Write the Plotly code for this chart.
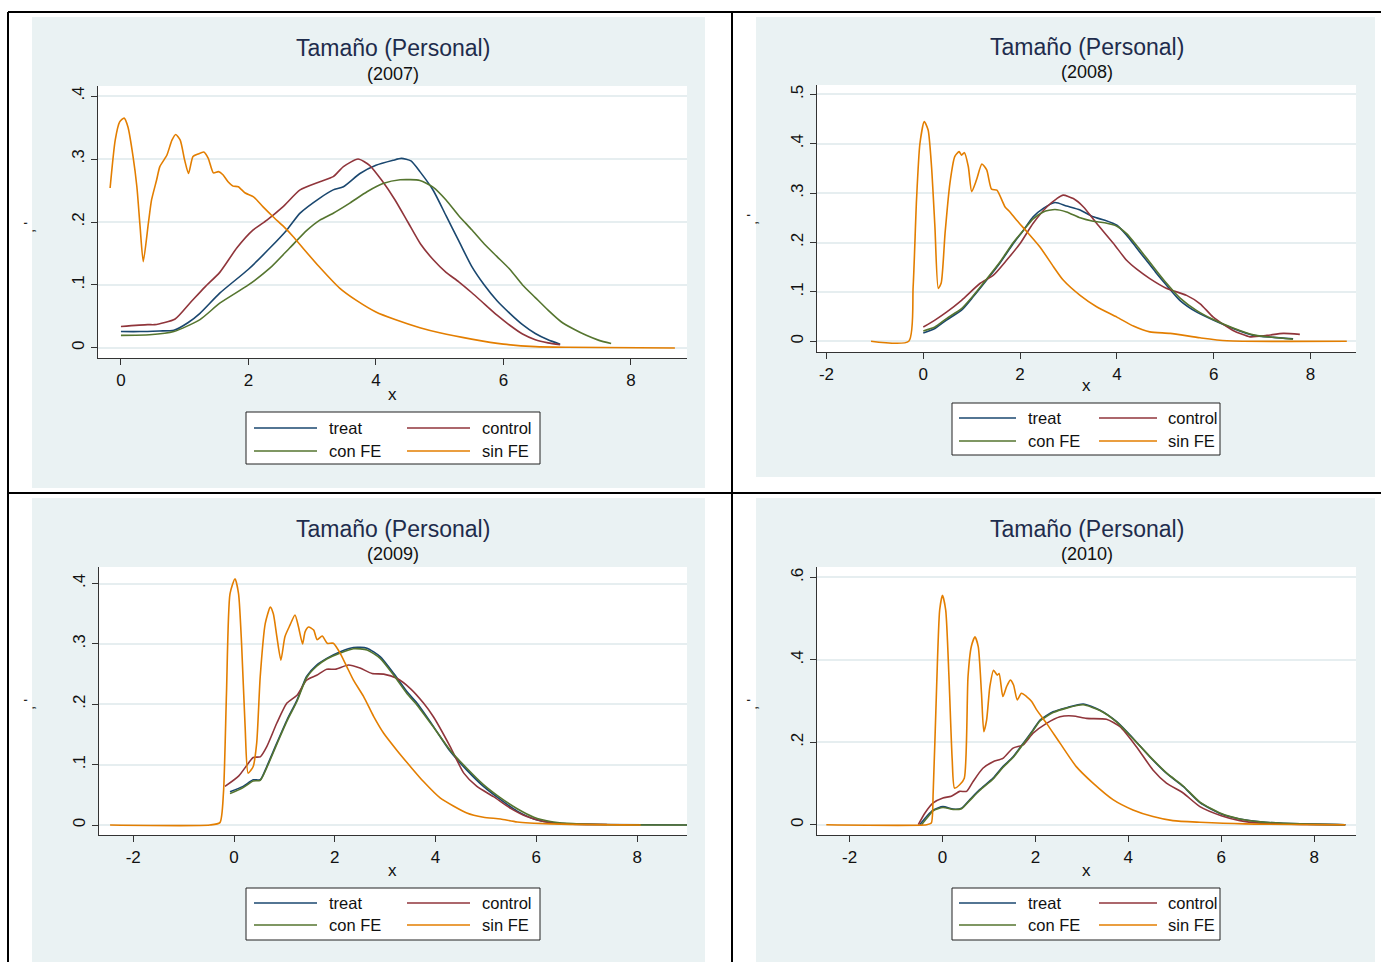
import plotly.graph_objects as go

W, H = 1381, 962
FONT = "Liberation Sans, Arial, Helvetica, sans-serif"

SERIES = ["treat", "control", "con FE", "sin FE"]
COLORS = ["#1A476F", "#90353B", "#55752F", "#E37E00"]
TITLE = "Tamaño (Personal)"
YEARS = ["(2007)", "(2008)", "(2009)", "(2010)"]

# ---------------- 2007 ----------------
X07_TREAT = [0, 0.3, 0.6, 0.83, 1.05, 1.24, 1.55, 2.0, 2.34, 2.6, 2.81, 3.12, 3.33, 3.49, 3.75, 4.0, 4.27, 4.4, 4.55, 4.69, 4.9, 5.1, 5.3, 5.5, 5.7, 5.9, 6.1, 6.3, 6.5, 6.7, 6.89]
Y07_TREAT = [0.026, 0.026, 0.027, 0.028, 0.04, 0.055, 0.087, 0.125, 0.159, 0.187, 0.214, 0.238, 0.251, 0.256, 0.277, 0.29, 0.298, 0.301, 0.297, 0.28, 0.25, 0.21, 0.17, 0.13, 0.1, 0.075, 0.055, 0.037, 0.023, 0.013, 0.006]
X07_CONTROL = [0, 0.42, 0.53, 0.85, 1.08, 1.32, 1.55, 1.82, 2.07, 2.29, 2.54, 2.81, 3.12, 3.33, 3.49, 3.72, 3.9, 4.1, 4.3, 4.5, 4.7, 4.9, 5.1, 5.3, 5.5, 5.7, 5.9, 6.1, 6.3, 6.5, 6.7, 6.89]
Y07_CONTROL = [0.034, 0.037, 0.037, 0.046, 0.071, 0.097, 0.12, 0.159, 0.187, 0.203, 0.224, 0.251, 0.264, 0.272, 0.288, 0.3, 0.29, 0.265, 0.235, 0.2, 0.165, 0.14, 0.12, 0.105, 0.088, 0.07, 0.052, 0.036, 0.022, 0.013, 0.008, 0.005]
X07_CONFE = [0, 0.45, 0.83, 1.24, 1.55, 2.0, 2.34, 2.65, 2.92, 3.12, 3.33, 3.59, 3.86, 4.11, 4.38, 4.69, 4.9, 5.1, 5.3, 5.5, 5.7, 5.9, 6.1, 6.3, 6.5, 6.7, 6.9, 7.1, 7.3, 7.5, 7.69]
Y07_CONFE = [0.02, 0.021, 0.026, 0.045, 0.071, 0.1, 0.127, 0.159, 0.187, 0.203, 0.214, 0.23, 0.248, 0.261, 0.267, 0.266, 0.255, 0.235, 0.21, 0.188, 0.165, 0.145, 0.125, 0.1, 0.08, 0.06, 0.042, 0.03, 0.02, 0.012, 0.007]
X07_SINFE = [-0.17, -0.09, -0.02, 0.05, 0.11, 0.19, 0.25, 0.3, 0.35, 0.43, 0.48, 0.56, 0.61, 0.72, 0.8, 0.86, 0.93, 1.0, 1.06, 1.13, 1.21, 1.3, 1.37, 1.45, 1.53, 1.6, 1.68, 1.76, 1.84, 1.95, 2.08, 2.23, 2.39, 2.55, 2.7, 2.86, 3.1, 3.43, 3.7, 4.0, 4.3, 4.69, 5.0, 5.5, 6.0, 6.5, 7.0, 8.69]
Y07_SINFE = [0.254, 0.33, 0.359, 0.365, 0.351, 0.304, 0.256, 0.193, 0.137, 0.198, 0.235, 0.267, 0.288, 0.306, 0.33, 0.339, 0.33, 0.298, 0.277, 0.304, 0.308, 0.311, 0.301, 0.278, 0.28, 0.275, 0.264, 0.257, 0.256, 0.246, 0.24, 0.224, 0.208, 0.193, 0.177, 0.158, 0.13, 0.095, 0.075, 0.057, 0.045, 0.032, 0.024, 0.014, 0.006, 0.002, 0.001, 0.0]

# ---------------- 2008 ----------------
X08_TREAT = [0, 0.24, 0.48, 0.79, 1.03, 1.31, 1.58, 1.86, 2.07, 2.27, 2.48, 2.72, 2.96, 3.24, 3.51, 3.75, 4.0, 4.2, 4.4, 4.6, 4.8, 5.03, 5.3, 5.65, 5.99, 6.4, 6.82, 7.23, 7.64]
Y08_TREAT = [0.017, 0.026, 0.043, 0.063, 0.09, 0.124, 0.158, 0.198, 0.225, 0.252, 0.269, 0.281, 0.274, 0.266, 0.252, 0.245, 0.235, 0.215, 0.19, 0.165, 0.14, 0.113, 0.083, 0.059, 0.043, 0.026, 0.012, 0.008, 0.005]
X08_CONTROL = [0, 0.24, 0.48, 0.79, 1.17, 1.45, 1.72, 2.0, 2.27, 2.55, 2.76, 2.89, 3.1, 3.31, 3.58, 3.93, 4.2, 4.41, 4.68, 5.03, 5.44, 5.72, 5.99, 6.4, 6.75, 7.1, 7.44, 7.78]
Y08_CONTROL = [0.029, 0.043, 0.059, 0.083, 0.117, 0.134, 0.164, 0.198, 0.239, 0.272, 0.289, 0.296, 0.289, 0.272, 0.239, 0.198, 0.164, 0.146, 0.127, 0.107, 0.093, 0.076, 0.049, 0.022, 0.009, 0.012, 0.016, 0.014]
X08_CONFE = [0, 0.24, 0.48, 0.79, 1.03, 1.31, 1.58, 1.86, 2.07, 2.27, 2.48, 2.72, 2.96, 3.24, 3.51, 3.75, 4.0, 4.2, 4.4, 4.6, 4.8, 5.03, 5.3, 5.65, 5.99, 6.4, 6.82, 7.23, 7.64]
Y08_CONFE = [0.021, 0.029, 0.046, 0.066, 0.092, 0.126, 0.16, 0.2, 0.225, 0.248, 0.262, 0.267, 0.262, 0.25, 0.243, 0.24, 0.233, 0.218, 0.195, 0.17, 0.145, 0.117, 0.088, 0.062, 0.044, 0.027, 0.013, 0.008, 0.004]
X08_SINFE = [-1.08, -0.3, -0.21, -0.14, -0.07, 0.02, 0.1, 0.17, 0.24, 0.31, 0.37, 0.45, 0.55, 0.65, 0.74, 0.79, 0.85, 0.93, 1.0, 1.1, 1.21, 1.31, 1.41, 1.52, 1.69, 1.79, 1.93, 2.14, 2.41, 2.69, 2.89, 3.24, 3.58, 4.0, 4.34, 4.68, 5.1, 5.72, 6.27, 8.75]
Y08_SINFE = [0, 0, 0.11, 0.286, 0.40, 0.445, 0.428, 0.354, 0.232, 0.107, 0.118, 0.219, 0.32, 0.374, 0.384, 0.377, 0.382, 0.354, 0.303, 0.327, 0.359, 0.347, 0.308, 0.306, 0.272, 0.262, 0.245, 0.222, 0.191, 0.151, 0.124, 0.093, 0.07, 0.049, 0.031, 0.019, 0.016, 0.007, 0.001, 0]

# ---------------- 2009 ----------------
X09_TREAT = [-0.08, 0.18, 0.38, 0.52, 0.65, 0.85, 1.05, 1.25, 1.44, 1.64, 1.84, 2.11, 2.37, 2.64, 2.9, 3.17, 3.43, 3.63, 3.96, 4.29, 4.62, 4.95, 5.29, 5.62, 5.95, 6.28, 6.61, 7.27, 8.99]
Y09_TREAT = [0.055, 0.064, 0.075, 0.075, 0.097, 0.136, 0.174, 0.207, 0.246, 0.265, 0.276, 0.287, 0.294, 0.293, 0.279, 0.251, 0.221, 0.202, 0.163, 0.122, 0.091, 0.064, 0.042, 0.023, 0.01, 0.004, 0.002, 0.001, 0]
X09_CONTROL = [-0.18, 0.09, 0.28, 0.38, 0.52, 0.65, 0.85, 1.05, 1.25, 1.44, 1.64, 1.84, 2.01, 2.27, 2.5, 2.74, 2.97, 3.23, 3.5, 3.76, 3.96, 4.29, 4.56, 4.82, 5.15, 5.48, 5.81, 6.15, 6.61, 7.4]
Y09_CONTROL = [0.064, 0.081, 0.102, 0.112, 0.113, 0.13, 0.169, 0.202, 0.215, 0.24, 0.248, 0.258, 0.258, 0.265, 0.26, 0.251, 0.25, 0.243, 0.226, 0.202, 0.179, 0.13, 0.086, 0.064, 0.047, 0.028, 0.014, 0.006, 0.002, 0.001]
X09_CONFE = [-0.08, 0.18, 0.38, 0.52, 0.65, 0.85, 1.05, 1.25, 1.44, 1.64, 1.84, 2.11, 2.37, 2.64, 2.9, 3.17, 3.43, 3.63, 3.96, 4.29, 4.62, 4.95, 5.29, 5.62, 5.95, 6.28, 6.61, 7.27, 8.99]
Y09_CONFE = [0.052, 0.062, 0.073, 0.074, 0.095, 0.134, 0.172, 0.205, 0.244, 0.263, 0.275, 0.285, 0.292, 0.29, 0.276, 0.248, 0.218, 0.199, 0.162, 0.124, 0.094, 0.067, 0.045, 0.027, 0.013, 0.006, 0.003, 0.001, 0.0]
X09_SINFE = [-2.46, -0.48, -0.28, -0.21, -0.15, -0.08, 0.02, 0.09, 0.15, 0.22, 0.28, 0.38, 0.45, 0.52, 0.62, 0.72, 0.78, 0.85, 0.93, 1.01, 1.11, 1.21, 1.28, 1.36, 1.41, 1.48, 1.58, 1.65, 1.75, 1.85, 1.97, 2.11, 2.24, 2.37, 2.57, 2.77, 2.97, 3.23, 3.5, 3.76, 4.09, 4.62, 4.95, 5.29, 5.62, 6.28, 8.07]
Y09_SINFE = [0, 0, 0.004, 0.053, 0.218, 0.383, 0.408, 0.383, 0.3, 0.163, 0.086, 0.097, 0.136, 0.246, 0.334, 0.361, 0.35, 0.312, 0.273, 0.312, 0.331, 0.348, 0.328, 0.3, 0.32, 0.328, 0.323, 0.307, 0.313, 0.301, 0.301, 0.284, 0.262, 0.24, 0.213, 0.18, 0.152, 0.124, 0.097, 0.072, 0.045, 0.02, 0.013, 0.01, 0.005, 0.002, 0]

# ---------------- 2010 ----------------
X10_TREAT = [-0.49, -0.34, -0.2, 0.01, 0.23, 0.41, 0.59, 0.8, 1.09, 1.3, 1.52, 1.74, 1.95, 2.1, 2.38, 2.67, 3.03, 3.39, 3.75, 4.1, 4.46, 4.82, 5.18, 5.54, 6.0, 6.4, 6.84, 7.7, 8.67]
Y10_TREAT = [0, 0.02, 0.036, 0.044, 0.038, 0.04, 0.061, 0.085, 0.113, 0.141, 0.165, 0.198, 0.23, 0.254, 0.274, 0.284, 0.293, 0.278, 0.25, 0.21, 0.165, 0.125, 0.093, 0.054, 0.026, 0.014, 0.007, 0.002, 0]
X10_CONTROL = [-0.52, -0.38, -0.2, 0.01, 0.19, 0.37, 0.52, 0.66, 0.87, 1.09, 1.3, 1.52, 1.74, 1.95, 2.24, 2.53, 2.81, 3.1, 3.53, 3.82, 4.17, 4.53, 4.82, 5.18, 5.54, 6.0, 6.4, 6.84, 7.7, 8.67]
Y10_CONTROL = [0, 0.028, 0.053, 0.065, 0.069, 0.081, 0.081, 0.105, 0.137, 0.153, 0.161, 0.186, 0.194, 0.222, 0.246, 0.262, 0.264, 0.258, 0.256, 0.238, 0.19, 0.133, 0.101, 0.077, 0.044, 0.022, 0.01, 0.004, 0.001, 0]
X10_CONFE = [-0.45, -0.32, -0.2, 0.01, 0.23, 0.41, 0.59, 0.8, 1.09, 1.3, 1.52, 1.74, 1.95, 2.1, 2.38, 2.67, 3.03, 3.39, 3.75, 4.1, 4.46, 4.82, 5.18, 5.54, 6.0, 6.4, 6.84, 7.7, 8.67]
Y10_CONFE = [0, 0.018, 0.034, 0.042, 0.037, 0.039, 0.059, 0.083, 0.111, 0.139, 0.163, 0.196, 0.228, 0.252, 0.272, 0.283, 0.291, 0.277, 0.249, 0.209, 0.166, 0.126, 0.094, 0.055, 0.027, 0.014, 0.007, 0.002, 0]
X10_SINFE = [-2.5, -0.34, -0.24, -0.2, -0.13, -0.06, 0.0, 0.07, 0.14, 0.21, 0.26, 0.37, 0.47, 0.55, 0.62, 0.7, 0.77, 0.84, 0.89, 0.95, 1.02, 1.1, 1.18, 1.22, 1.3, 1.38, 1.46, 1.53, 1.61, 1.7, 1.81, 1.92, 2.02, 2.24, 2.53, 2.88, 3.24, 3.67, 4.1, 4.53, 4.96, 5.54, 6.5, 8.67]
Y10_SINFE = [0, 0, 0.004, 0.077, 0.319, 0.521, 0.557, 0.521, 0.359, 0.157, 0.089, 0.097, 0.113, 0.359, 0.432, 0.456, 0.432, 0.319, 0.226, 0.254, 0.335, 0.375, 0.363, 0.367, 0.311, 0.335, 0.351, 0.339, 0.303, 0.319, 0.311, 0.299, 0.28, 0.246, 0.198, 0.141, 0.101, 0.061, 0.036, 0.02, 0.01, 0.006, 0.002, 0]

# ---------------- ticks ----------------
X_TICKS_07 = [0, 2, 4, 6, 8]
X_TICKS = [-2, 0, 2, 4, 6, 8]
Y_TICKS_A = [0, 0.1, 0.2, 0.3, 0.4]
Y_LABELS_A = ["0", ".1", ".2", ".3", ".4"]
Y_TICKS_B = [0, 0.1, 0.2, 0.3, 0.4, 0.5]
Y_LABELS_B = ["0", ".1", ".2", ".3", ".4", ".5"]
Y_TICKS_C = [0, 0.2, 0.4, 0.6]
Y_LABELS_C = ["0", ".2", ".4", ".6"]

DATA = [
    [(X07_TREAT, Y07_TREAT), (X07_CONTROL, Y07_CONTROL), (X07_CONFE, Y07_CONFE), (X07_SINFE, Y07_SINFE)],
    [(X08_TREAT, Y08_TREAT), (X08_CONTROL, Y08_CONTROL), (X08_CONFE, Y08_CONFE), (X08_SINFE, Y08_SINFE)],
    [(X09_TREAT, Y09_TREAT), (X09_CONTROL, Y09_CONTROL), (X09_CONFE, Y09_CONFE), (X09_SINFE, Y09_SINFE)],
    [(X10_TREAT, Y10_TREAT), (X10_CONTROL, Y10_CONTROL), (X10_CONFE, Y10_CONFE), (X10_SINFE, Y10_SINFE)],
]

# layout geometry in pixels
PANELS = [
    dict(bg=(32, 17, 705, 488), plot=(98, 86, 687, 358), xr=[-0.36, 8.88], yr=[-0.016, 0.416],
         xt=X_TICKS_07, yt=Y_TICKS_A, yl=Y_LABELS_A, title_y=48, sub_y=74, xlab_y=395,
         leg=(246, 412, 540, 464), leg_cols=(254, 317, 327, 407, 470, 480), rows=(428, 451), ylab=(28, 228)),
    dict(bg=(756, 17, 1375, 477), plot=(817, 85, 1356, 352), xr=[-2.196, 8.94], yr=[-0.0217, 0.519],
         xt=X_TICKS, yt=Y_TICKS_B, yl=Y_LABELS_B, title_y=47, sub_y=72, xlab_y=386,
         leg=(952, 403, 1220, 455), leg_cols=(959, 1016, 1026, 1099, 1157, 1166), rows=(418, 441), ylab=(751, 220)),
    dict(bg=(32, 498, 705, 962), plot=(99, 567, 687, 835), xr=[-2.68, 8.99], yr=[-0.0165, 0.4274],
         xt=X_TICKS, yt=Y_TICKS_A, yl=Y_LABELS_A, title_y=529, sub_y=554, xlab_y=870,
         leg=(246, 888, 540, 940), leg_cols=(254, 317, 327, 407, 470, 480), rows=(903, 925), ylab=(28, 705)),
    dict(bg=(756, 498, 1375, 962), plot=(817, 567, 1356, 835), xr=[-2.70, 8.90], yr=[-0.0249, 0.6254],
         xt=X_TICKS, yt=Y_TICKS_C, yl=Y_LABELS_C, title_y=529, sub_y=554, xlab_y=870,
         leg=(952, 888, 1220, 940), leg_cols=(959, 1016, 1026, 1099, 1157, 1166), rows=(903, 925), ylab=(751, 705)),
]


def fx(px):
    return px / W


def fy(py):
    return 1 - py / H


fig = go.Figure()
shapes = []
annotations = []
layout = {}

for i, (p, series) in enumerate(zip(PANELS, DATA)):
    k = "" if i == 0 else str(i + 1)
    for name, color, (xs, ys) in zip(SERIES, COLORS, series):
        fig.add_trace(go.Scatter(x=xs, y=ys, mode="lines", name=name, showlegend=False,
                                 line=dict(color=color, width=1.6, shape="spline", smoothing=0.6),
                                 xaxis="x" + k, yaxis="y" + k))
    x0, y0, x1, y1 = p["plot"]
    layout["xaxis" + k] = dict(domain=[fx(x0), fx(x1)], range=p["xr"], anchor="y" + k,
                               tickvals=p["xt"], ticktext=[str(v) for v in p["xt"]],
                               showgrid=False, zeroline=False, showline=True, linecolor="#333333",
                               linewidth=1.3, ticks="outside", ticklen=6, tickcolor="#333333",
                               tickfont=dict(family=FONT, size=17, color="#111111"))
    layout["yaxis" + k] = dict(domain=[fy(y1), fy(y0)], range=p["yr"], anchor="x" + k,
                               tickvals=p["yt"], ticktext=p["yl"], tickangle=-90,
                               showgrid=True, gridcolor="#E6EEF0", gridwidth=1.5,
                               zeroline=False, showline=True, linecolor="#333333",
                               linewidth=1.3, ticks="outside", ticklen=6, tickcolor="#333333",
                               tickfont=dict(family=FONT, size=17, color="#111111"))
    # panel background, then white plot region on top of it
    bx0, by0, bx1, by1 = p["bg"]
    shapes.append(dict(type="rect", xref="paper", yref="paper", x0=fx(bx0), x1=fx(bx1), y0=fy(by1), y1=fy(by0),
                       fillcolor="#EAF2F3", line=dict(width=0), layer="below"))
    shapes.append(dict(type="rect", xref="paper", yref="paper", x0=fx(x0), x1=fx(x1), y0=fy(y1), y1=fy(y0),
                       fillcolor="white", line=dict(width=0), layer="below"))
    cx = fx((x0 + x1) / 2)
    annotations.append(dict(text=TITLE, x=cx, y=fy(p["title_y"]), xref="paper", yref="paper",
                            showarrow=False, xanchor="center", yanchor="middle",
                            font=dict(family=FONT, size=23, color="#1E2C4C")))
    annotations.append(dict(text=YEARS[i], x=cx, y=fy(p["sub_y"]), xref="paper", yref="paper",
                            showarrow=False, xanchor="center", yanchor="middle",
                            font=dict(family=FONT, size=18, color="#111111")))
    annotations.append(dict(text="x", x=cx, y=fy(p["xlab_y"]), xref="paper", yref="paper",
                            showarrow=False, xanchor="center", yanchor="middle",
                            font=dict(family=FONT, size=17, color="#111111")))
    annotations.append(dict(text=", '", x=fx(p["ylab"][0]), y=fy(p["ylab"][1]), xref="paper", yref="paper",
                            showarrow=False, xanchor="center", yanchor="middle", textangle=-90,
                            font=dict(family=FONT, size=15, color="#111111")))
    # legend box
    lx0, ly0, lx1, ly1 = p["leg"]
    shapes.append(dict(type="rect", xref="paper", yref="paper", x0=fx(lx0), x1=fx(lx1), y0=fy(ly1), y1=fy(ly0),
                       fillcolor="white", line=dict(color="#222222", width=1)))
    c = p["leg_cols"]
    slots = [(c[0], c[1], c[2], p["rows"][0]), (c[3], c[4], c[5], p["rows"][0]),
             (c[0], c[1], c[2], p["rows"][1]), (c[3], c[4], c[5], p["rows"][1])]
    for name, color, (sx0, sx1, tx, ry) in zip(SERIES, COLORS, slots):
        shapes.append(dict(type="line", xref="paper", yref="paper", x0=fx(sx0), x1=fx(sx1),
                           y0=fy(ry), y1=fy(ry), line=dict(color=color, width=1.6)))
        annotations.append(dict(text=name, x=fx(tx), y=fy(ry), xref="paper", yref="paper",
                                showarrow=False, xanchor="left", yanchor="middle",
                                font=dict(family=FONT, size=16.5, color="#111111")))

# black frame lines
for (ax0, ay0, ax1, ay1) in [(8, 12, 1381, 12), (8, 12, 8, 962), (732, 12, 732, 962), (8, 493, 1381, 493)]:
    shapes.append(dict(type="line", xref="paper", yref="paper", x0=fx(ax0), x1=fx(ax1), y0=fy(ay0), y1=fy(ay1),
                       line=dict(color="black", width=2)))

fig.update_layout(width=W, height=H, margin=dict(l=0, r=0, t=0, b=0, pad=0),
                  paper_bgcolor="white", plot_bgcolor="white", showlegend=False,
                  shapes=shapes, annotations=annotations, **layout)

fig.write_html("out.html", config={"displayModeBar": False},
               post_script="document.body.style.margin='0px';")
